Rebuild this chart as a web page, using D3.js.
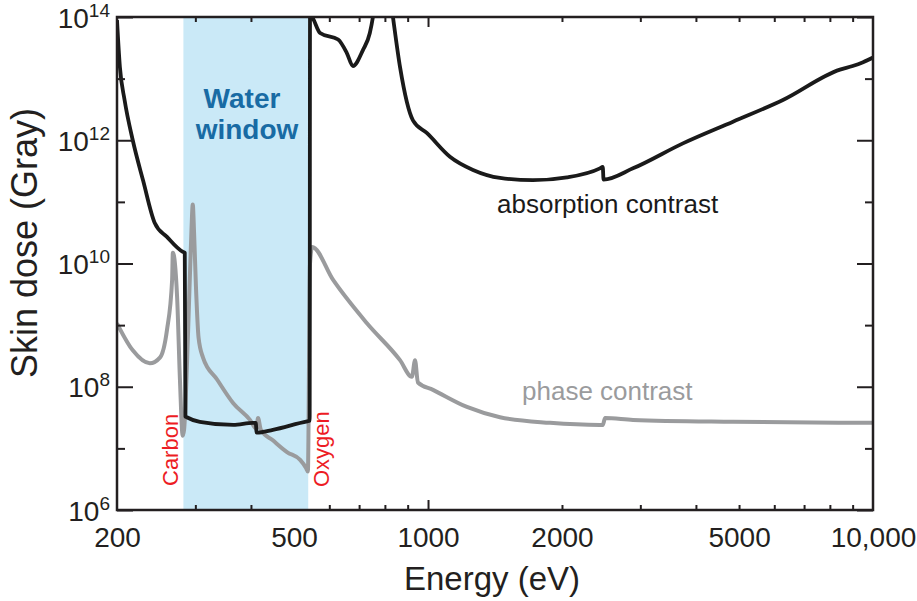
<!DOCTYPE html>
<html><head><meta charset="utf-8">
<script src="https://cdn.jsdelivr.net/npm/d3@7"></script>
<style>
body{margin:0;background:#fff}
svg{display:block}
text{font-family:"Liberation Sans",Arial,Helvetica,sans-serif}
</style>
</head><body>
<svg id="chart" width="917" height="601"></svg>
<script>
// ---------- data ----------
const xTickLabels = [200, 500, 1000, 2000, 5000, 10000];
const xMinorTicks = [300, 400, 600, 700, 800, 900, 2000, 3000, 4000, 5000, 6000, 7000, 8000, 9000];
const yMajorExponents = [6, 8, 10, 12, 14];
const yMinorExponents = [7, 9, 11, 13];
const waterWindow = [282, 538];

const absEnergy = [200, 203, 208, 217, 229, 243, 259, 281, 284, 285, 287, 307, 365, 404, 410, 412, 448, 535, 542,
  543, 549, 572, 628, 657, 678, 714, 740, 752, 765, 820, 834, 865, 925, 995, 1120, 1262, 1451, 1721, 2052, 2434,
  2470, 2480, 2888, 3740, 4846, 6274, 8428, 9000, 9500, 10000];
const absDose = [8.9e13, 1.55e13, 4.5e12, 1.0e12, 2.2e11, 4.6e10, 2.7e10, 1.55e10, 1.5e10, 3.3e7, 3.2e7, 2.7e7,
  2.4e7, 2.6e7, 2.6e7, 1.8e7, 2.0e7, 2.75e7, 2.8e7,
  1.1e14, 1.0e14, 5.5e13, 4.3e13, 2.6e13, 1.6e13, 2.9e13, 5.5e13, 1.0e14, 2.5e14, 2.5e14, 1.0e14, 1.55e13, 2.1e12,
  1.3e12, 5.4e11, 3.3e11, 2.45e11, 2.25e11, 2.5e11, 3.5e11,
  3.7e11, 2.3e11, 3.5e11, 8.9e11, 2.0e12, 4.5e12, 1.4e13, 1.6e13, 1.85e13, 2.2e13];

const phaseEnergy = [200, 217, 237, 250, 259, 266, 267, 273, 277, 281, 283, 289, 294, 296, 298, 301, 305, 312, 336,
  365, 398, 411, 415, 421, 448, 482, 516, 532, 537, 543, 549, 612, 729, 865, 920, 935, 949, 1026, 1223, 1451, 1880,
  2434, 2470, 2500, 2888, 4846, 10000];
const phaseDose = [1.07e9, 3.9e8, 2.4e8, 3.0e8, 8.3e8, 5.4e9, 1.5e10, 2.8e9, 1.3e8, 1.6e7, 2.0e7, 8.3e8, 3.5e10,
  9.1e10, 3.2e10, 4e9, 6.3e8, 3.0e8, 1.3e8,
  5.4e7, 2.9e7, 2.1e7, 3.1e7, 2.0e7, 1.35e7, 8.7e6, 6.5e6, 4.8e6, 4.2e6, 1.0e10, 1.85e10, 5.4e9, 1.07e9, 2.7e8,
  1.45e8, 2.7e8, 1.17e8, 8.9e7, 4.7e7, 3.2e7, 2.6e7,
  2.4e7, 2.4e7, 3.1e7, 2.9e7, 2.7e7, 2.6e7];

// ---------- layout ----------
const L = 117, R = 873, T = 17, B = 510;
const svg = d3.select("#chart");
const x = d3.scaleLog().domain([200, 10000]).range([L, R]);
const y = d3.scaleLog().domain([1e6, 1e14]).range([B, T]);

// water window
svg.append("rect")
  .attr("x", x(waterWindow[0])).attr("y", T)
  .attr("width", x(waterWindow[1]) - x(waterWindow[0])).attr("height", B - T)
  .attr("fill", "#cae9f7");

// clip
svg.append("clipPath").attr("id", "plotclip").append("rect")
  .attr("x", L).attr("y", T).attr("width", R - L).attr("height", B - T);

const line = d3.line().x(d => x(d[0])).y(d => y(d[1])).curve(d3.curveMonotoneX);

svg.append("path")
  .datum(phaseEnergy.map((e, i) => [e, phaseDose[i]]))
  .attr("clip-path", "url(#plotclip)")
  .attr("d", line).attr("fill", "none")
  .attr("stroke", "#9a9b9d").attr("stroke-width", 4)
  .attr("stroke-linejoin", "round");

svg.append("path")
  .datum(absEnergy.map((e, i) => [e, absDose[i]]))
  .attr("clip-path", "url(#plotclip)")
  .attr("d", line).attr("fill", "none")
  .attr("stroke", "#1a1a1a").attr("stroke-width", 3.8)
  .attr("stroke-linejoin", "round");

// ---------- axes ----------
function styleAxis(g) {
  g.select(".domain").remove();
  g.selectAll(".tick line").attr("stroke", "#231f20").attr("stroke-width", 2);
}
const yMajor = yMajorExponents.map(e => Math.pow(10, e));
const yMinor = yMinorExponents.map(e => Math.pow(10, e));

svg.append("g").attr("transform", `translate(${L},0)`)
  .call(d3.axisLeft(y).tickValues(yMajor).tickSize(-16).tickFormat(""))
  .call(styleAxis);
svg.append("g").attr("transform", `translate(${L},0)`)
  .call(d3.axisLeft(y).tickValues(yMinor).tickSize(-8).tickFormat(""))
  .call(styleAxis);
svg.append("g").attr("transform", `translate(${R},0)`)
  .call(d3.axisRight(y).tickValues(yMajor).tickSize(-16).tickFormat(""))
  .call(styleAxis);
svg.append("g").attr("transform", `translate(${R},0)`)
  .call(d3.axisRight(y).tickValues(yMinor).tickSize(-8).tickFormat(""))
  .call(styleAxis);

svg.append("g").attr("transform", `translate(0,${B})`)
  .call(d3.axisBottom(x).tickValues(xMinorTicks).tickSize(-5).tickFormat(""))
  .call(styleAxis);
svg.append("g").attr("transform", `translate(0,${B})`)
  .call(d3.axisBottom(x).tickValues([1000]).tickSize(-10).tickFormat(""))
  .call(styleAxis);
svg.append("g").attr("transform", `translate(0,${T})`)
  .call(d3.axisTop(x).tickValues(xMinorTicks).tickSize(-5).tickFormat(""))
  .call(styleAxis);
svg.append("g").attr("transform", `translate(0,${T})`)
  .call(d3.axisTop(x).tickValues([1000]).tickSize(-10).tickFormat(""))
  .call(styleAxis);

// x labels
const xl = svg.append("g").attr("transform", `translate(0,${B})`)
  .call(d3.axisBottom(x).tickValues(xTickLabels).tickSize(0).tickPadding(17)
    .tickFormat(d => d === 10000 ? "10,000" : String(d)));
xl.select(".domain").remove();
xl.selectAll("text").attr("font-size", 28).attr("fill", "#231f20")
  .style("font-family", '"Liberation Sans",Arial,sans-serif');

// y labels
const yl = svg.append("g").attr("transform", `translate(${L},0)`)
  .call(d3.axisLeft(y).tickValues(yMajor).tickSize(0).tickPadding(7).tickFormat(""));
yl.select(".domain").remove();
yl.selectAll(".tick text").each(function(d) {
  const t = d3.select(this).attr("dy", "0.36em").attr("font-size", 28).attr("fill", "#231f20")
    .style("font-family", '"Liberation Sans",Arial,sans-serif');
  t.text(null);
  t.append("tspan").text("10");
  t.append("tspan").attr("font-size", 19).attr("dy", -11).text(Math.round(Math.log10(d)));
});

// frame
svg.append("rect").attr("x", L).attr("y", T).attr("width", R - L).attr("height", B - T)
  .attr("fill", "none").attr("stroke", "#231f20").attr("stroke-width", 2.5);

// axis titles
svg.append("text").attr("x", (L + R) / 2 - 3).attr("y", 590).attr("text-anchor", "middle")
  .attr("font-size", 33).attr("fill", "#231f20").text("Energy (eV)");
svg.append("text").attr("transform", "translate(37,243) rotate(-90)").attr("text-anchor", "middle")
  .attr("font-size", 36).attr("fill", "#231f20").text("Skin dose (Gray)");

// annotations
svg.append("text").attr("x", 242).attr("y", 108).attr("text-anchor", "middle")
  .attr("font-size", 28).attr("font-weight", "bold").attr("fill", "#186ba4").text("Water");
svg.append("text").attr("x", 247).attr("y", 139).attr("text-anchor", "middle")
  .attr("font-size", 28).attr("font-weight", "bold").attr("fill", "#186ba4").text("window");

svg.append("text").attr("transform", "translate(178,486) rotate(-90)")
  .attr("font-size", 22).attr("fill", "#ed1c24").text("Carbon");
svg.append("text").attr("transform", "translate(329,487) rotate(-90)")
  .attr("font-size", 22).attr("fill", "#ed1c24").text("Oxygen");

svg.append("text").attr("x", 497).attr("y", 213)
  .attr("font-size", 26).attr("fill", "#1a1a1a").text("absorption contrast");
svg.append("text").attr("x", 522).attr("y", 400)
  .attr("font-size", 26).attr("fill", "#9a9b9d").text("phase contrast");
</script>
</body></html>
